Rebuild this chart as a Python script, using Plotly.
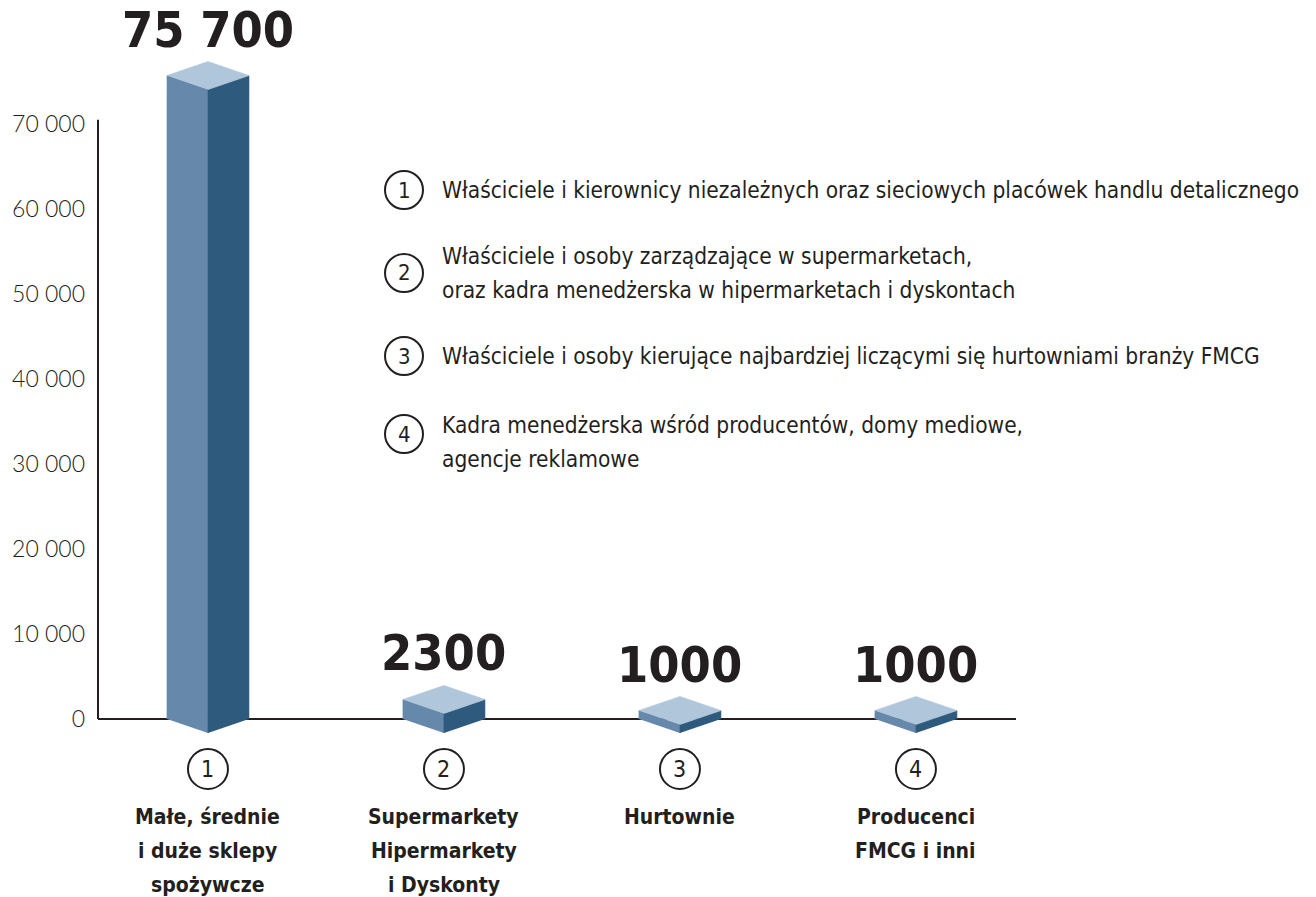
import plotly.graph_objects as go

# ---------------- data ----------------
category_ids = ["1", "2", "3", "4"]
category_names = [
    "Małe, średnie<br>i duże sklepy<br>spożywcze",
    "Supermarkety<br>Hipermarkety<br>i Dyskonty",
    "Hurtownie",
    "Producenci<br>FMCG i inni",
]
values = [75700, 2300, 1000, 1000]
value_labels = ["75 700", "2300", "1000", "1000"]
y_ticks = [0, 10000, 20000, 30000, 40000, 50000, 60000, 70000]
legend_texts = [
    "Właściciele i kierownicy niezależnych oraz sieciowych placówek handlu detalicznego",
    "Właściciele i osoby zarządzające w supermarketach,<br>oraz kadra menedżerska w hipermarketach i dyskontach",
    "Właściciele i osoby kierujące najbardziej liczącymi się hurtowniami branży FMCG",
    "Kadra menedżerska wśród producentów, domy mediowe,<br>agencje reklamowe",
]

# ---------------- layout constants ----------------
W, H = 1316, 897
ML, MR, MT, MB = 98, 300, 0, 137
PLOT_W = W - ML - MR
PLOT_H = H - MT - MB
K = 8.5             # pixels per 1000 units
ZERO_PX = 719       # pixel row of y = 0
X_LEFT, X_RIGHT = -0.466, 3.424
PX_PER_X = PLOT_W / (X_RIGHT - X_LEFT)
Y_MAX = (ZERO_PX - MT) / K * 1000
Y_MIN = -(MT + PLOT_H - ZERO_PX) / K * 1000
HALF_W = 41 / PX_PER_X          # half width of a box in x units
DEPTH = 14 / K * 1000           # iso depth in y units

C_LEFT = "#6689AB"
C_RIGHT = "#2E5A7D"
C_TOP = "#B0C6DA"
INK = "#231F20"
NARROW = "Liberation Sans Narrow, DejaVu Sans Condensed, sans-serif"
LIGHT = "Lato, Open Sans, sans-serif"


def paper_y(px):
    return (MT + PLOT_H - px) / PLOT_H


def paper_x(px):
    return (px - ML) / PLOT_W


fig = go.Figure()

CAT_LINE_PX = [817, 851, 885]
for i, v in enumerate(values):
    faces = [
        ([i - HALF_W, i - HALF_W, i, i], [0, v, v - DEPTH, -DEPTH], C_LEFT),
        ([i, i, i + HALF_W, i + HALF_W], [-DEPTH, v - DEPTH, v, 0], C_RIGHT),
        ([i - HALF_W, i, i + HALF_W, i], [v, v + DEPTH, v, v - DEPTH], C_TOP),
    ]
    for xs, ys, col in faces:
        fig.add_trace(go.Scatter(
            x=xs, y=ys, fill="toself", fillcolor=col, mode="lines",
            line=dict(color=col, width=0.6), hoverinfo="skip", showlegend=False,
        ))
    # value label
    fig.add_annotation(
        x=i, y=v, xref="x", yref="y", text=value_labels[i], showarrow=False,
        xanchor="center", yanchor="bottom", yshift=15,
        font=dict(family=NARROW, size=50, color=INK, weight="bold"),
    )
    # numbered circle under the axis
    fig.add_shape(
        type="circle", xref="x", yref="paper", xsizemode="pixel", ysizemode="pixel",
        xanchor=i, yanchor=paper_y(769), x0=-20, x1=20, y0=-20, y1=20,
        line=dict(color=INK, width=2), fillcolor="white",
    )
    fig.add_annotation(
        x=i, y=paper_y(769), xref="x", yref="paper", text=category_ids[i], showarrow=False,
        xanchor="center", yanchor="middle",
        font=dict(family=NARROW, size=23, color=INK),
    )
    for ln, line_txt in enumerate(category_names[i].split("<br>")):
        fig.add_annotation(
            x=i, y=paper_y(CAT_LINE_PX[ln]), xref="x", yref="paper", text="<b>" + line_txt + "</b>",
            showarrow=False, xanchor="center", yanchor="middle",
            font=dict(family=NARROW, size=21, color=INK),
        )

# y-axis line
fig.add_shape(type="line", xref="paper", yref="y", x0=0, x1=0, y0=0, y1=70500,
              line=dict(color=INK, width=2), layer="below")

# legend (numbered explanations)
leg_circle_px = [190, 273, 356, 434]
leg_line_px = [[190], [256, 290], [356], [425, 459]]
for j, txt in enumerate(legend_texts):
    fig.add_shape(
        type="circle", xref="paper", yref="paper", xsizemode="pixel", ysizemode="pixel",
        xanchor=paper_x(404), yanchor=paper_y(leg_circle_px[j]), x0=-19, x1=19, y0=-19, y1=19,
        line=dict(color=INK, width=2), fillcolor="white",
    )
    fig.add_annotation(
        x=paper_x(404), y=paper_y(leg_circle_px[j]), xref="paper", yref="paper",
        text=category_ids[j], showarrow=False, xanchor="center", yanchor="middle",
        font=dict(family=NARROW, size=22, color=INK),
    )
    for ln, line_txt in enumerate(txt.split("<br>")):
        fig.add_annotation(
            x=paper_x(440), y=paper_y(leg_line_px[j][ln]), xref="paper", yref="paper",
            text=line_txt, showarrow=False, xanchor="left", yanchor="middle", align="left",
            font=dict(family=NARROW, size=22.5, color=INK),
        )

fig.update_layout(
    width=W, height=H, margin=dict(l=ML, r=MR, t=MT, b=MB),
    paper_bgcolor="white", plot_bgcolor="white", separators=". ",
    showlegend=False,
    xaxis=dict(range=[X_LEFT, X_RIGHT], visible=False, fixedrange=True),
    yaxis=dict(
        range=[Y_MIN, Y_MAX], tickvals=y_ticks, tickformat=",d", showgrid=False,
        zeroline=True, zerolinecolor=INK, zerolinewidth=2, showline=False, ticks="",
        ticklabelstandoff=12, tickfont=dict(family=LIGHT, size=23, color=INK, weight=300),
        fixedrange=True,
    ),
)

fig.write_html("out.html", config={"displayModeBar": False},
               post_script="document.body.style.margin='0px';")
